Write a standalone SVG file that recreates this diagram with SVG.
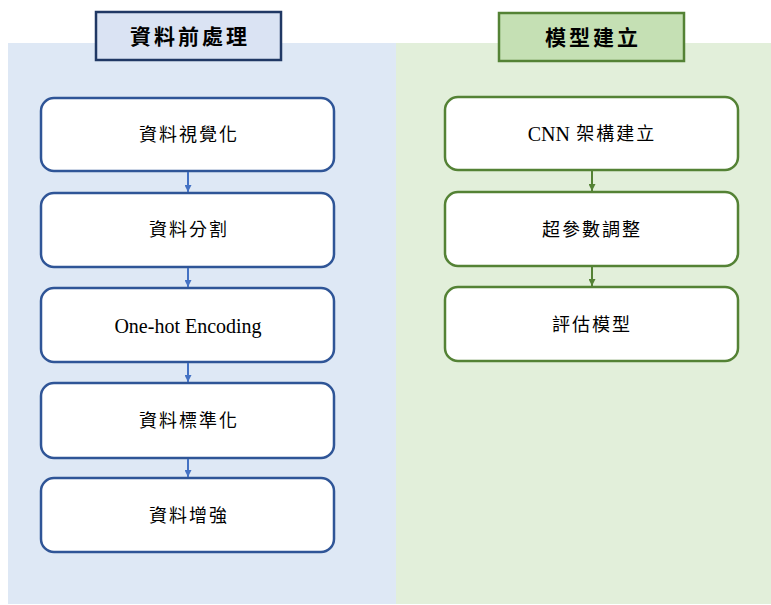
<svg xmlns="http://www.w3.org/2000/svg" width="771" height="605" viewBox="0 0 771 605">
  <defs>
    <marker id="ab" viewBox="0 0 10 10" refX="10" refY="5" markerWidth="7" markerHeight="7" markerUnits="userSpaceOnUse" orient="auto">
      <path d="M0,0 L10,5 L0,10 Z" fill="#4472C4"/>
    </marker>
    <marker id="ag" viewBox="0 0 10 10" refX="10" refY="5" markerWidth="7" markerHeight="7" markerUnits="userSpaceOnUse" orient="auto">
      <path d="M0,0 L10,5 L0,10 Z" fill="#548235"/>
    </marker>
  </defs>
  <style>
    .t { font-family: "Liberation Serif", "Noto Sans CJK TC", serif; font-size: 18px; fill: #000; text-anchor: middle; dominant-baseline: central; letter-spacing: 2px; }
    .lat { font-size: 20px; letter-spacing: 0; }
    .h { font-family: "Liberation Serif", "Noto Sans CJK TC", serif; font-size: 21px; font-weight: bold; fill: #000; text-anchor: middle; dominant-baseline: central; letter-spacing: 3px; }
    .nb { fill: #fff; stroke: #2F5597; stroke-width: 2.5; }
    .ng { fill: #fff; stroke: #548235; stroke-width: 2.5; }
    .cb { stroke: #4472C4; stroke-width: 2; fill: none; marker-end: url(#ab); }
    .cg { stroke: #548235; stroke-width: 2; fill: none; marker-end: url(#ag); }
  </style>
  <rect width="771" height="605" fill="#fff"/>
  <g id="panels">
    <rect x="8" y="43" width="388" height="561" fill="#DEE8F5"/>
    <rect x="396" y="43" width="375" height="561" fill="#E2EFDA"/>
  </g>
  <g id="title-left">
    <rect x="96" y="12" width="185" height="48" fill="#DAE3F3" stroke="#203864" stroke-width="2.5"/>
    <text class="h" x="190" y="37">資料前處理</text>
  </g>
  <g id="title-right">
    <rect x="499" y="13" width="185" height="48" fill="#C5E0B4" stroke="#548235" stroke-width="2.5"/>
    <text class="h" x="593" y="38">模型建立</text>
  </g>
  <g id="n1">
    <rect class="nb" x="41" y="98" width="293" height="73" rx="13"/>
    <text class="t" x="189" y="135">資料視覺化</text>
  </g>
  <g id="n2">
    <rect class="nb" x="41" y="193" width="293" height="74" rx="13"/>
    <text class="t" x="189" y="230">資料分割</text>
  </g>
  <g id="n3">
    <rect class="nb" x="41" y="288" width="293" height="74" rx="13"/>
    <text class="t lat" x="188" y="326">One-hot Encoding</text>
  </g>
  <g id="n4">
    <rect class="nb" x="41" y="383" width="293" height="75" rx="13"/>
    <text class="t" x="189" y="421">資料標準化</text>
  </g>
  <g id="n5">
    <rect class="nb" x="41" y="478" width="293" height="74" rx="13"/>
    <text class="t" x="189" y="516">資料增強</text>
  </g>
  <g id="m1">
    <rect class="ng" x="445" y="97" width="293" height="73" rx="13"/>
    <text class="t" x="592" y="134"><tspan class="lat">CNN</tspan> 架構建立</text>
  </g>
  <g id="m2">
    <rect class="ng" x="445" y="192" width="293" height="74" rx="13"/>
    <text class="t" x="592" y="230">超參數調整</text>
  </g>
  <g id="m3">
    <rect class="ng" x="445" y="287" width="293" height="74" rx="13"/>
    <text class="t" x="592" y="325">評估模型</text>
  </g>
  <g id="connectors">
    <line class="cb" x1="188" y1="172" x2="188" y2="192"/>
    <line class="cb" x1="188" y1="268" x2="188" y2="287"/>
    <line class="cb" x1="188" y1="363" x2="188" y2="382"/>
    <line class="cb" x1="188" y1="459" x2="188" y2="477"/>
    <line class="cg" x1="592" y1="171" x2="592" y2="191"/>
    <line class="cg" x1="592" y1="267" x2="592" y2="286"/>
  </g>
</svg>
